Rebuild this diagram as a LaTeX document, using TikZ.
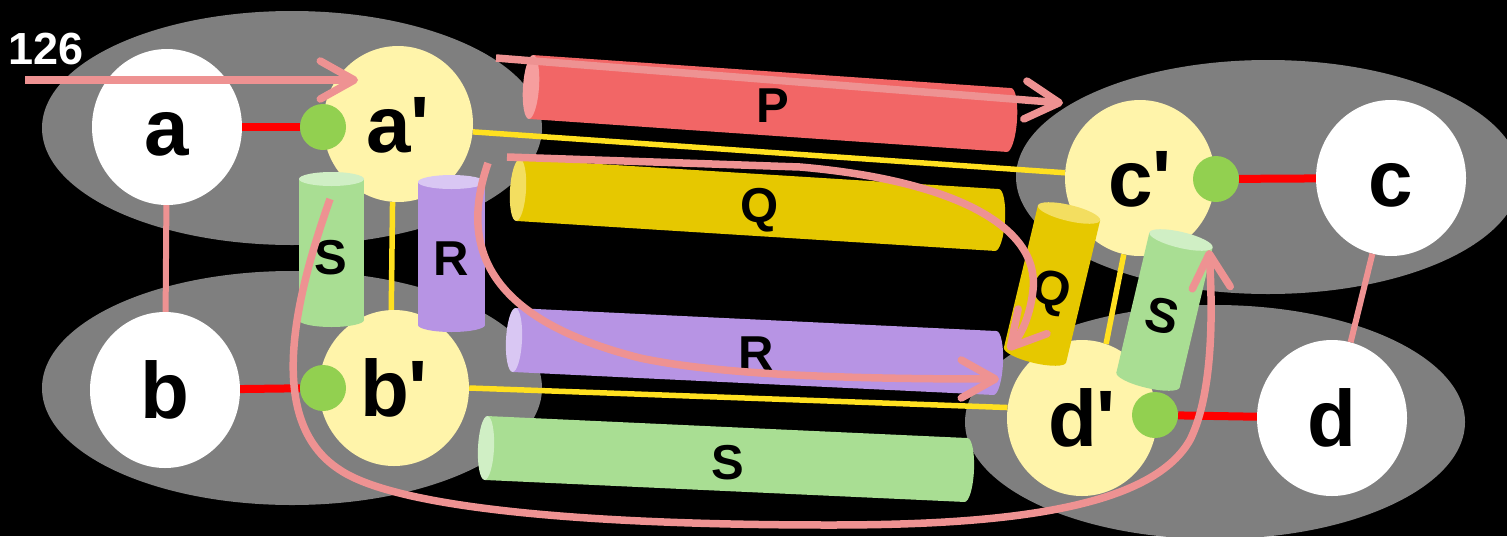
\documentclass[tikz,border=0pt]{standalone}
\usepackage{fontspec}
\setmainfont{Liberation Sans}[Ligatures=TeXOff]
\usetikzlibrary{shapes.geometric,arrows.meta}

\definecolor{blobgray}{RGB}{127,127,127}
\definecolor{discyellow}{RGB}{255,244,170}
\definecolor{dotgreen}{RGB}{146,208,80}
\definecolor{linkpink}{RGB}{238,146,146}
\definecolor{linkyellow}{RGB}{255,224,32}
\definecolor{tubeP}{RGB}{242,102,102}
\definecolor{tubePcap}{RGB}{246,158,158}
\definecolor{tubeQ}{RGB}{230,200,0}
\definecolor{tubeQcap}{RGB}{243,222,96}
\definecolor{tubeR}{RGB}{183,148,228}
\definecolor{tubeRcap}{RGB}{217,199,243}
\definecolor{tubeS}{RGB}{169,222,147}
\definecolor{tubeScap}{RGB}{208,239,197}

\newcommand\discfont{\fontsize{80}{80}\selectfont\bfseries}
\newcommand\tubefont{\fontsize{49}{49}\selectfont\bfseries}
\newcommand\countfont{\fontsize{45}{45}\selectfont\bfseries}

% cylinder from cap centre (#1,#2) to far end centre (#3,#4),
% radius #5, end ellipse half-depth #6, body colour #7, cap colour #8
\newcommand\drawtube[8]{%
  \pgfmathsetmacro\tubeang{atan2(-(#4-#2),(#3-#1))}%
  \pgfmathsetmacro\tubelen{veclen((#3-#1),(#4-#2))}%
  \begin{scope}[shift={(#1,#2)},rotate=\tubeang]
    \fill[#7] (0,-#5) rectangle (\tubelen,#5);
    \fill[#7] (\tubelen,0) ellipse[x radius=#6,y radius=#5];
    \fill[#8] (0,0) ellipse[x radius=#6,y radius=#5];
  \end{scope}}

\begin{document}
\begin{tikzpicture}[x=1pt,y=-1pt,
  blob/.style={fill=blobgray},
  outerdisc/.style={ellipse,fill=white,minimum width=150pt,minimum height=156pt,
    inner sep=0pt,font=\discfont,text height=57pt,text depth=0pt},
  innerdisc/.style={outerdisc,fill=discyellow},
  dot/.style={circle,fill=dotgreen,minimum size=46pt,inner sep=0pt},
  redlink/.style={draw=red,line width=8pt},
  pinklink/.style={draw=linkpink,line width=6pt},
  yellowlink/.style={draw=linkyellow,line width=5.5pt},
  flow/.style={draw=linkpink,line width=7.5pt,
    -{Straight Barb[length=34pt,width=38pt,round]}},
  tubelabel/.style={font=\tubefont,text height=35pt,text depth=0pt,inner sep=0pt}]

\useasboundingbox (0,0) rectangle (1507,536);
\fill[black] (0,0) rectangle (1507,536);

% grey groups
\fill[blob] (292,128) ellipse[x radius=250,y radius=117];
\fill[blob] (292,388) ellipse[x radius=250,y radius=117];
\fill[blob] (1268,177) ellipse[x radius=252,y radius=117];
\fill[blob] (1215,422) ellipse[x radius=250,y radius=117];

% discs
\node[outerdisc] (a) at (167,127) {a};
\node[outerdisc] (b) at (165,390) {b};
\node[outerdisc] (c) at (1391,178) {c};
\node[outerdisc] (d) at (1332,418) {d};
\node[innerdisc] (ap) at (398,124) {a'};
\node[innerdisc] (bp) at (394,388) {b'};
\node[innerdisc] (cp) at (1140,178) {c'};
\node[innerdisc] (dp) at (1082,418) {d'};

% thin links
\draw[pinklink] (a) -- (b);
\draw[pinklink] (c) -- (d);
\draw[yellowlink] (ap.-6) -- (cp.176);
\draw[yellowlink] (bp.0) -- (dp.172);
\draw[yellowlink] (ap.-94) -- (bp.92);
\draw[yellowlink] (cp.-102) -- (dp.72);

% green contacts
\node[dot] (ga) at (323,127) {};
\node[dot] (gb) at (323,388) {};
\node[dot] (gc) at (1216,179) {};
\node[dot] (gd) at (1155,415) {};
\draw[redlink] (a) -- (ga);
\draw[redlink] (b) -- (gb);
\draw[redlink] (gc) -- (c);
\draw[redlink] (gd) -- (d);

% cylinders
\drawtube{531}{87}{1009}{120}{32}{8}{tubeP}{tubePcap}
\drawtube{518}{190}{997}{220}{31}{8}{tubeQ}{tubeQcap}
\drawtube{514}{340}{995}{363}{32}{8}{tubeR}{tubeRcap}
\drawtube{486}{448}{966}{470}{32}{8}{tubeS}{tubeScap}
\drawtube{331.5}{179}{331.5}{320}{32.5}{7}{tubeS}{tubeScap}
\drawtube{451.5}{182}{451.5}{325}{33.5}{7}{tubeR}{tubeRcap}
\drawtube{1069}{213}{1035}{355}{32}{8}{tubeQ}{tubeQcap}
\drawtube{1181}{240}{1148}{380}{32.5}{8}{tubeS}{tubeScap}

\node[tubelabel] (lP) at (773,105) {P};
\node[tubelabel] (lQ) at (760,205) {Q};
\node[tubelabel] (lR) at (756,353) {R};
\node[tubelabel] (lS) at (728,462) {S};
\node[tubelabel] (lS1) at (331,257) {S};
\node[tubelabel] (lR1) at (451,258) {R};
\node[tubelabel,rotate=-13.5] (lQ2) at (1052,288) {Q};
\node[tubelabel,rotate=-13.3] (lS2) at (1162,315) {S};

% flows
\node[font=\countfont,text=white,inner sep=0pt] (count) at (46.5,49) {126};
\coordinate (in0) at (25,80);
\coordinate (in1) at (358,80);
\draw[flow] (in0) -- (in1);

\coordinate (p0) at (496,58);
\coordinate (p1) at (1063,103);
\draw[flow] (p0) -- (p1);

\coordinate (q0) at (507,157);
\coordinate (q1) at (1008,350);
\draw[flow] (q0) -- (800,167) .. controls (950,180) and (1040,225) .. (1033,290)
  .. controls (1030,318) and (1020,336) .. (q1);

\coordinate (r0) at (488,163);
\coordinate (r1) at (999,379);
\draw[flow] (r0) .. controls (458,250) and (490,320) .. (640,358)
  .. controls (720,375) and (850,379) .. (r1);

\coordinate (s0) at (330,199);
\coordinate (s1) at (1209,250);
\draw[flow] (s0) .. controls (298,290) and (262,420) .. (340,470)
  .. controls (400,510) and (600,525) .. (830,525)
  .. controls (1000,525) and (1150,510) .. (1190,440)
  .. controls (1215,390) and (1212,300) .. (s1);
\end{tikzpicture}
\end{document}
